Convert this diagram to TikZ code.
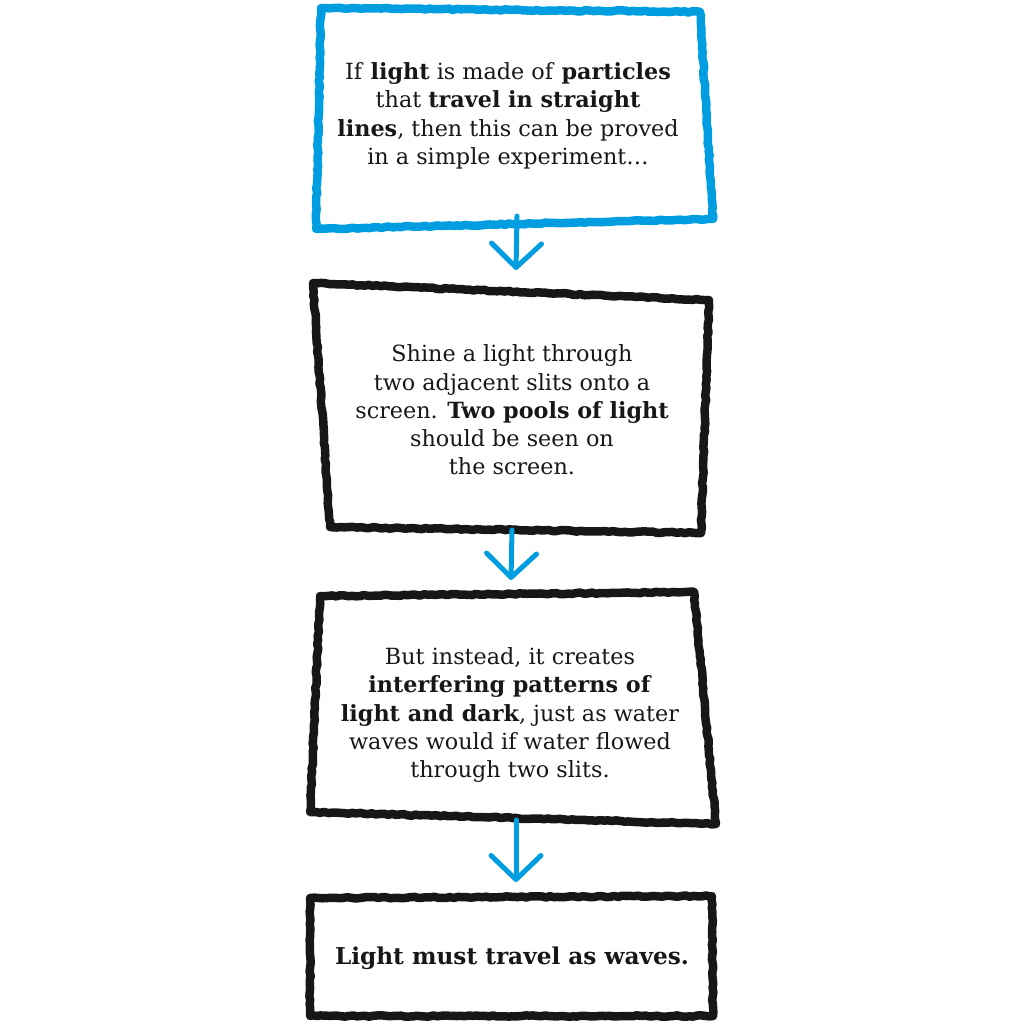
\documentclass[tikz,border=0pt]{standalone}
\usepackage{fontspec}
\setmainfont{DejaVu Serif}
\usetikzlibrary{arrows.meta,decorations.pathmorphing}
\definecolor{crayonblue}{RGB}{0,158,224}
\definecolor{crayonblack}{RGB}{25,22,22}
\tikzset{
  crayon/.style={line width=8.5pt,line join=round,line cap=round,
    decorate,decoration={random steps,segment length=4pt,amplitude=0.7pt}},
  bluebox/.style={crayon,draw=crayonblue},
  blackbox/.style={crayon,draw=crayonblack},
  txt/.style={align=center,text=crayonblack,font=\fontsize{22.3}{28.3}\selectfont},
  bigtxt/.style={align=center,text=crayonblack,font=\fontsize{23.2}{28.3}\selectfont},
  flow/.style={draw=crayonblue,line width=5pt,line cap=round,
    -{Straight Barb[length=24pt,width=50pt,round]}}
}
\begin{document}
\begin{tikzpicture}[x=1pt,y=-1pt]
\useasboundingbox (0,0) rectangle (1024,1024);
% boxes
\draw[bluebox] (321,8) -- (700,12) -- (713,219) -- (316,229) -- cycle;
\draw[blackbox] (313,283) -- (709,300) -- (701,533) -- (330,527) -- cycle;
\draw[blackbox] (320,596) -- (694,592) -- (716,824) -- (310,812) -- cycle;
\draw[blackbox] (310,898) -- (712,896) -- (713,1016) -- (310,1016) -- cycle;
% texts
\node[txt] (t1) at (508,116) {If \textbf{light} is made of \textbf{particles}\\
that \textbf{travel in straight}\\
\textbf{lines}, then this can be proved\\
in a simple experiment\dots};
\node[txt] (t2) at (512,410) {Shine a light through\\
two adjacent slits onto a\\
screen. \textbf{Two pools of light}\\
should be seen on\\
the screen.};
\node[txt] (t3) at (510,715) {But instead, it creates\\
\textbf{interfering patterns of}\\
\textbf{light and dark}, just as water\\
waves would if water flowed\\
through two slits.};
\node[bigtxt] (t4) at (512,958) {\textbf{Light must travel as waves.}};
% connectors
\coordinate (a1s) at (517,216);
\coordinate (a1e) at (516,270);
\coordinate (a2s) at (512,530);
\coordinate (a2e) at (511,580);
\coordinate (a3s) at (516,820);
\coordinate (a3e) at (516,882);
\draw[flow] (a1s) -- (a1e);
\draw[flow] (a2s) -- (a2e);
\draw[flow] (a3s) -- (a3e);
\end{tikzpicture}
\end{document}
